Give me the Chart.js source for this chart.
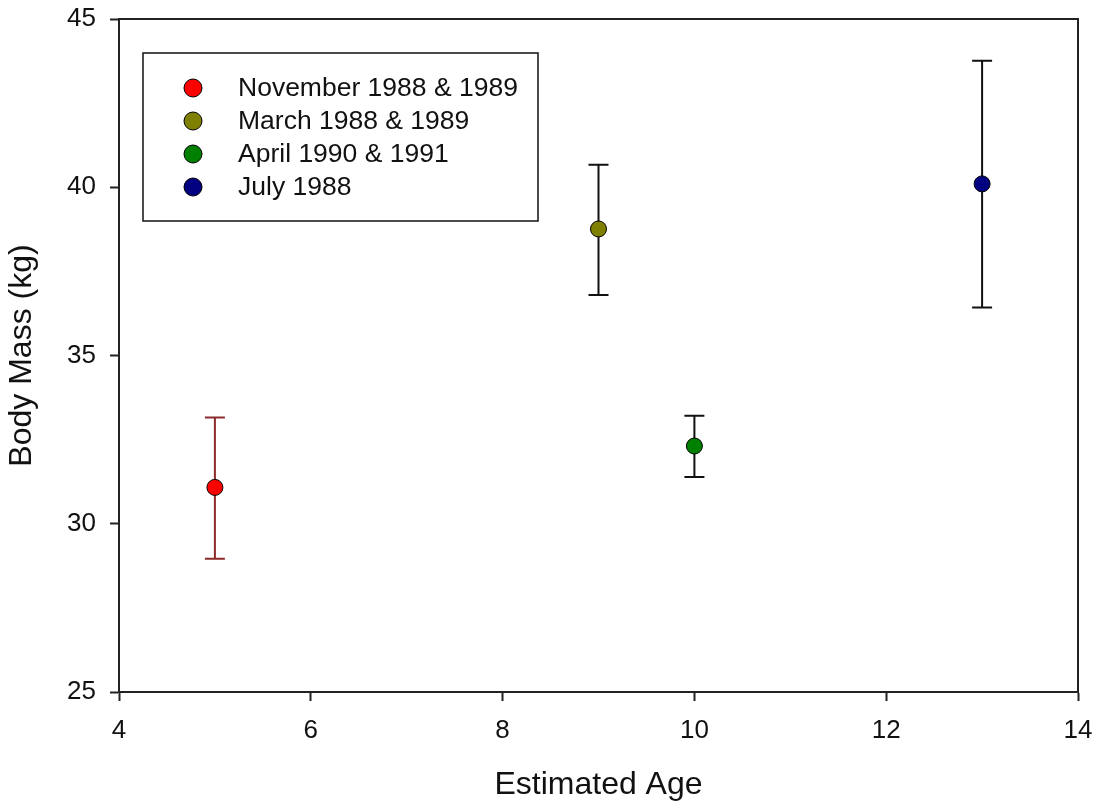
<!DOCTYPE html>
<html>
<head>
<meta charset="utf-8">
<style>
html,body{margin:0;padding:0;background:#fff;}
#wrap{width:1098px;height:806px;}
</style>
<script src="https://cdn.jsdelivr.net/npm/chart.js"></script>
</head>
<body>
<div id="wrap"><canvas id="c" width="1098" height="806"></canvas></div>
<script>
// Data
const seriesLabels = ["November 1988 & 1989", "March 1988 & 1989", "April 1990 & 1991", "July 1988"];
const ages = [5, 9, 10, 13];
const bodyMass = [31.08, 38.76, 32.31, 40.10];
const errUpper = [33.16, 40.67, 33.21, 43.76];
const errLower = [28.96, 36.80, 31.39, 36.43];
const pointColors = ["#ff0000", "#808000", "#008000", "#000080"];
const errColors = ["#8b2a2a", "#111111", "#111111", "#111111"];
const xTicks = [4, 6, 8, 10, 12, 14];
const yTicks = [25, 30, 35, 40, 45];

const FONT = "'Liberation Sans', Arial, sans-serif";

const datasets = seriesLabels.map((lab, i) => ({
  label: lab,
  data: [{x: ages[i], y: bodyMass[i]}],
  backgroundColor: pointColors[i],
  borderColor: "#000",
  borderWidth: 1,
  pointRadius: 8,
  pointHoverRadius: 8
}));

const errorBars = {
  id: 'errorBars',
  beforeDatasetsDraw(chart) {
    const {ctx, scales: {x, y}} = chart;
    ctx.save();
    ctx.lineWidth = 2;
    for (let i = 0; i < ages.length; i++) {
      const px = x.getPixelForValue(ages[i]);
      const pt = y.getPixelForValue(errUpper[i]);
      const pb = y.getPixelForValue(errLower[i]);
      ctx.strokeStyle = errColors[i];
      ctx.beginPath();
      ctx.moveTo(px, pt); ctx.lineTo(px, pb);
      ctx.moveTo(px - 10, pt); ctx.lineTo(px + 10, pt);
      ctx.moveTo(px - 10, pb); ctx.lineTo(px + 10, pb);
      ctx.stroke();
    }
    ctx.restore();
  }
};

const frame = {
  id: 'frame',
  afterDraw(chart) {
    const {ctx, chartArea: a} = chart;
    ctx.save();
    ctx.strokeStyle = "#222";
    ctx.lineWidth = 2;
    ctx.strokeRect(a.left, a.top, a.right - a.left, a.bottom - a.top);
    ctx.restore();
  }
};

const boxLegend = {
  id: 'boxLegend',
  afterDraw(chart) {
    const {ctx, chartArea: a} = chart;
    const bx = a.left + 24, by = a.top + 34, bw = 395, bh = 168;
    ctx.save();
    ctx.fillStyle = "#fff";
    ctx.fillRect(bx, by, bw, bh);
    ctx.strokeStyle = "#111";
    ctx.lineWidth = 1.5;
    ctx.strokeRect(bx, by, bw, bh);
    ctx.font = "26.5px " + FONT;
    ctx.textBaseline = "middle";
    ctx.textAlign = "left";
    chart.data.datasets.forEach((ds, i) => {
      const cy = by + 35 + i * 33;
      ctx.beginPath();
      ctx.arc(bx + 50, cy, 9, 0, Math.PI * 2);
      ctx.fillStyle = ds.backgroundColor;
      ctx.fill();
      ctx.lineWidth = 1;
      ctx.strokeStyle = "#000";
      ctx.stroke();
      ctx.fillStyle = "#111";
      ctx.fillText(ds.label, bx + 95, cy + 1);
    });
    ctx.restore();
  }
};

new Chart(document.getElementById('c'), {
  type: 'scatter',
  data: { datasets },
  plugins: [errorBars, frame, boxLegend],
  options: {
    responsive: false,
    animation: false,
    layout: { padding: { top: 19, right: 20, left: 0, bottom: 0 } },
    plugins: { legend: { display: false }, tooltip: { enabled: false } },
    scales: {
      x: {
        type: 'linear',
        min: 4, max: 14,
        afterBuildTicks(s) { s.ticks = xTicks.map(v => ({value: v})); },
        afterFit(s) { s.height = 114; s.paddingLeft = 0; s.paddingRight = 0; },
        ticks: { color: "#111", font: { family: FONT, size: 26 }, padding: 14 },
        grid: { drawOnChartArea: false, drawTicks: true, tickLength: 9, tickColor: "#222", tickWidth: 2 },
        border: { display: true, color: "#222", width: 2 },
        title: { display: true, text: "Estimated Age", color: "#111", font: { family: FONT, size: 32 }, padding: { top: 0, bottom: 2 } }
      },
      y: {
        type: 'linear',
        min: 25, max: 45,
        afterBuildTicks(s) { s.ticks = yTicks.map(v => ({value: v})); },
        afterFit(s) { s.width = 119; s.paddingTop = 0; s.paddingBottom = 0; },
        ticks: { color: "#111", font: { family: FONT, size: 26 }, padding: 14 },
        grid: { drawOnChartArea: false, drawTicks: true, tickLength: 9, tickColor: "#222", tickWidth: 2 },
        border: { display: true, color: "#222", width: 2 },
        title: { display: true, text: "Body Mass (kg)", color: "#111", font: { family: FONT, size: 32 }, padding: { top: 3, bottom: 0 } }
      }
    }
  }
});
</script>
</body>
</html>
